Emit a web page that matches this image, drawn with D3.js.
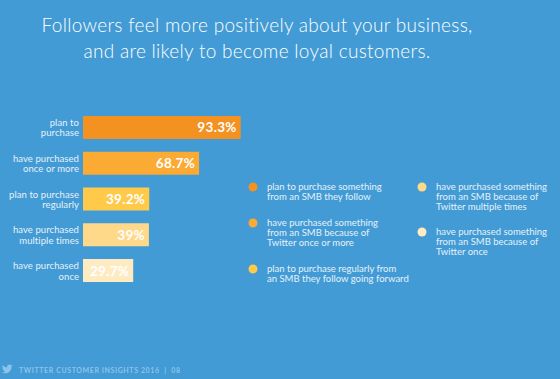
<!DOCTYPE html>
<html>
<head>
<meta charset="utf-8">
<script src="https://cdn.jsdelivr.net/npm/d3@7"></script>
<style>
  html, body { margin: 0; padding: 0; background: #429bd5; }
  svg { display: block; }
</style>
</head>
<body>
<svg id="chart" width="560" height="379"></svg>
<script>
const titleLines = ["Followers feel more positively about your business,", "and are likely to become loyal customers."];
const categories = [
  ["plan to", "purchase"],
  ["have purchased", "once or more"],
  ["plan to purchase", "regularly"],
  ["have purchased", "multiple times"],
  ["have purchased", "once"]
];
const values = [93.3, 68.7, 39.2, 39, 29.7];
const valueLabels = ["93.3%", "68.7%", "39.2%", "39%", "29.7%"];
const colors = ["#f39121", "#fbaa33", "#ffc94a", "#fed98a", "#ffebc2"];
const legendLines = [
  ["plan to purchase something", "from an SMB they follow"],
  ["have purchased something", "from an SMB because of", "Twitter once or more"],
  ["plan to purchase regularly from", "an SMB they follow going forward"],
  ["have purchased something", "from an SMB because of", "Twitter multiple times"],
  ["have purchased something", "from an SMB because of", "Twitter once"]
];
const footerText = "TWITTER CUSTOMER INSIGHTS 2016  |  08";

const svg = d3.select("#chart");
const font = "Lato, 'Open Sans', sans-serif";

// measure a string in a given style, return letter-spacing needed to reach target width
function spacingFor(str, size, weight, target) {
  const t = svg.append("text").attr("font-family", font).attr("font-size", size)
    .attr("font-weight", weight).style("white-space", "pre").text(str);
  const w = t.node().getComputedTextLength();
  t.remove();
  return (target - w) / (str.length - 1);
}

svg.append("rect").attr("width", 560).attr("height", 379).attr("fill", "#429bd5");

// Title
const titleLS = spacingFor(titleLines[0], 19, 300, 431);
svg.append("g").selectAll("text").data(titleLines).join("text")
  .attr("x", 257).attr("y", (d, i) => 32 + i * 25.5)
  .attr("text-anchor", "middle")
  .attr("fill", "#ffffff")
  .attr("font-family", font)
  .attr("font-weight", 300)
  .attr("font-size", 19)
  .attr("letter-spacing", titleLS)
  .text(d => d);

const x = d3.scaleLinear().domain([0, 100]).range([83, 252]);
const y = d3.scaleBand().domain(d3.range(values.length)).range([116, 282]).paddingInner(0.357).paddingOuter(0);

const bars = svg.append("g");
bars.selectAll("rect").data(values).join("rect")
  .attr("x", x(0))
  .attr("y", (d, i) => y(i))
  .attr("width", d => x(d) - x(0))
  .attr("height", y.bandwidth())
  .attr("fill", (d, i) => colors[i]);

const valLS = spacingFor("93.3%", 13.5, "bold", 39);
bars.selectAll("text.val").data(values).join("text")
  .attr("class", "val")
  .attr("x", d => x(d) - 4)
  .attr("y", (d, i) => y(i) + y.bandwidth() / 2 + 5)
  .attr("text-anchor", "end")
  .attr("fill", "#ffffff")
  .attr("font-family", font)
  .attr("font-weight", "bold")
  .attr("font-size", 13.5)
  .attr("letter-spacing", valLS)
  .text((d, i) => valueLabels[i]);

// Category labels
const catLS = spacingFor("have purchased", 9.5, "normal", 66);
const cat = svg.append("g");
categories.forEach((lines, i) => {
  const cy = y(i) + y.bandwidth() / 2;
  cat.append("text")
    .attr("text-anchor", "end")
    .attr("fill", "#e6f1fa")
    .attr("font-family", font)
    .attr("font-size", 9.5)
    .attr("letter-spacing", catLS)
    .selectAll("tspan").data(lines).join("tspan")
    .attr("x", 79)
    .attr("y", (d, j) => cy - 1.5 + j * 10.5)
    .text(d => d);
});

// Legend
const legLS = spacingFor("have purchased something", 9.5, "normal", 111);
const legendPos = [
  [253, 187], [253, 223], [253, 269], [422, 187], [422, 232]
];
const lg = svg.append("g");
legendLines.forEach((lines, i) => {
  const [lx, ly] = legendPos[i];
  lg.append("circle").attr("cx", lx).attr("cy", ly).attr("r", 4.5).attr("fill", colors[i]);
  lg.append("text")
    .attr("fill", "#e6f1fa")
    .attr("font-family", font)
    .attr("font-size", 9.5)
    .attr("letter-spacing", legLS)
    .selectAll("tspan").data(lines).join("tspan")
    .attr("x", lx + 14)
    .attr("y", (d, j) => ly + 3 + j * 10)
    .text(d => d);
});

// Footer
svg.append("path")
  .attr("d", "M23.6 4.6c-.9.4-1.8.6-2.8.8 1-.6 1.8-1.6 2.2-2.7-1 .6-2 1-3.1 1.2-.9-1-2.2-1.6-3.600-1.6-2.7 0-4.9 2.2-4.9 4.9 0 .4 0 .8.1 1.1C7.4 8.1 3.8 6.1 1.4 3.1c-.4.7-.7 1.6-.7 2.5 0 1.7.9 3.2 2.2 4.1-.8 0-1.6-.2-2.2-.6v.1c0 2.4 1.7 4.4 3.9 4.8-.4.1-.8.2-1.3.2-.3 0-.6 0-.9-.1.6 2 2.4 3.4 4.6 3.4-1.7 1.3-3.8 2.1-6.1 2.1-.4 0-.8 0-1.2-.1 2.2 1.4 4.8 2.2 7.5 2.2 9.1 0 14-7.5 14-14v-.6c1-.7 1.8-1.6 2.4-2.5z")
  .attr("transform", "translate(2,363.5) scale(0.45)")
  .attr("fill", "#8cc3ea");

const footLS = spacingFor(footerText, 7, "bold", 161);
svg.append("text")
  .attr("x", 19).attr("y", 372.5)
  .attr("fill", "#8cc3ea")
  .attr("font-family", font)
  .attr("font-weight", "bold")
  .attr("font-size", 7)
  .attr("letter-spacing", footLS)
  .attr("xml:space", "preserve")
  .style("white-space", "pre")
  .text(footerText);
</script>
</body>
</html>
